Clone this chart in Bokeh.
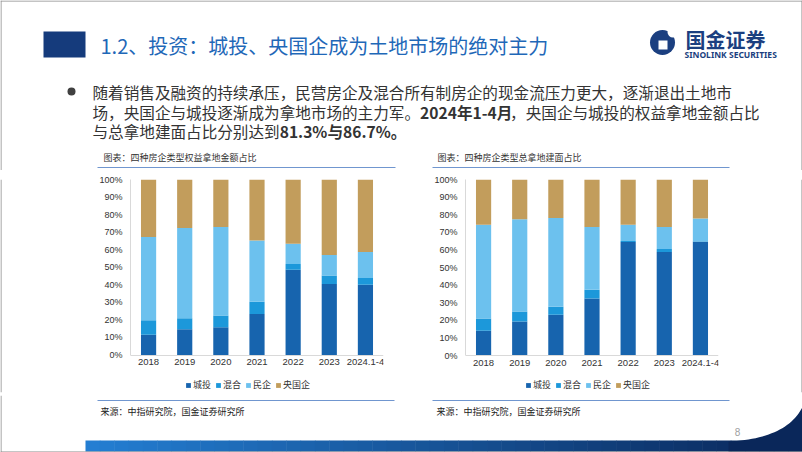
import numpy as np
from bokeh.plotting import figure
from bokeh.layouts import column, row
from bokeh.models import (Range1d, FactorRange, Legend, LegendItem, FixedTicker,
                          PrintfTickFormatter, ColumnDataSource)
from bokeh.core.properties import value
from bokeh.embed import file_html
from bokeh.resources import INLINE

# ---------------- data ----------------
years = ["2018", "2019", "2020", "2021", "2022", "2023", "2024.1-4"]
series = ["城投", "混合", "民企", "央国企"]

# 四种房企类型权益拿地金额占比 (%)
amt_chengtou = [11.6, 14.7, 15.8, 23.4, 48.6, 40.4, 40.0]
amt_hunhe = [8.2, 6.3, 6.7, 6.9, 3.2, 4.9, 3.9]
amt_minqi = [47.4, 51.4, 50.5, 35.0, 11.6, 11.7, 14.8]
amt_yangguo = [32.8, 27.6, 27.0, 34.7, 36.6, 43.0, 41.3]

# 四种房企类型总拿地建面占比 (%)
area_chengtou = [14.2, 19.4, 23.2, 32.5, 64.5, 58.9, 64.6]
area_hunhe = [6.9, 5.7, 4.5, 4.9, 0.6, 1.7, 0.3]
area_minqi = [53.2, 52.3, 50.4, 35.6, 9.2, 12.4, 13.0]
area_yangguo = [25.7, 22.6, 21.9, 27.0, 25.7, 27.0, 22.1]

yticks = [0, 10, 20, 30, 40, 50, 60, 70, 80, 90, 100]

chart1_title = "图表：四种房企类型权益拿地金额占比"
chart2_title = "图表：四种房企类型总拿地建面占比"
source_text = "来源：中指研究院，国金证券研究所"
slide_title = "1.2、投资：城投、央国企成为土地市场的绝对主力"

COLORS = ["#1764AE", "#1C98DA", "#6CC1EE", "#C29D5C"]
CJK = "Noto Sans CJK SC"
TXT = "#333333"
BORDER = "#8A8A8A"


def canvas(x0, x1, y0, y1):
    p = figure(width=x1 - x0, height=y1 - y0, x_range=Range1d(x0, x1),
               y_range=Range1d(y1, y0), output_backend="svg",
               toolbar_location=None, min_border=0,
               x_axis_location=None, y_axis_location=None)
    p.grid.visible = False
    p.outline_line_color = None
    p.background_fill_color = "white"
    p.border_fill_color = "white"
    return p


def txt(p, x, y, s, size, color=TXT, bold=False, font=CJK, align="left"):
    p.text(x=[x], y=[y], text=[s], text_font=value(font),
           text_font_size=value(size), text_color=color,
           text_baseline="middle", text_align=align,
           text_font_style="bold" if bold else "normal")


# ---------------- header (slide y 0..170) ----------------
H = canvas(0, 802, 0, 170)
H.segment(x0=[0.5, 0, 801.5], y0=[0, 0.5, 0], x1=[0.5, 802, 801.5], y1=[170, 0.5, 170],
          line_color=BORDER, line_width=1)
H.quad(left=[43], right=[85], top=[31], bottom=[57], fill_color="#153B7C", line_color=None)
txt(H, 100, 45, slide_title, "20px", color="#1F68B8")

# logo
H.circle(x=[662], y=[42], radius=12.5, fill_color="#1B3F80", line_color=None)
H.circle(x=[672.5], y=[31.5], radius=5.5, fill_color="white", line_color=None)
H.quad(left=[658], right=[667], top=[40], bottom=[49], fill_color="white", line_color=None)
txt(H, 685, 38.5, "国金证券", "20px", color="#1B3F80", bold=True)
txt(H, 684, 53.5, "SINOLINK SECURITIES", "8.5px", color="#1B3F80", bold=True, font="Noto Sans")

# bullet text
BFS = "15.6px"
ADV = 15.6
H.circle(x=[71], y=[91], radius=4, fill_color="#404040", line_color=None)
txt(H, 92, 91, "随着销售及融资的持续承压，民营房企及混合所有制房企的现金流压力更大，逐渐退出土地市", BFS)
x2 = 92 + 21 * ADV
txt(H, 92, 111, "场，央国企与城投逐渐成为拿地市场的主力军。", BFS)
txt(H, x2, 111, "2024年1-4月", BFS, bold=True)
txt(H, x2 + 90, 111, "，央国企与城投的权益拿地金额占比", BFS)
txt(H, 92, 130, "与总拿地建面占比分别达到", BFS)
txt(H, 92 + 12 * ADV, 130, "81.3%与86.7%。", BFS, bold=True)

# chart titles + underline
txt(H, 103, 157, chart1_title, "9px")
txt(H, 437, 157, chart2_title, "9px")
H.segment(x0=[97, 432], y0=[167, 167], x1=[395, 729], y1=[167, 167],
          line_color="#7096CF", line_width=1)


# ---------------- charts (slide y 170..395) ----------------
def make_chart(ct, hh, mq, yg, top_px, zero_px, leg_x):
    # figure spans slide y 170..395; frame from top_px to 392
    frame_bottom = 392.0
    scale = (zero_px - top_px) / 100.0
    ymin = -(frame_bottom - zero_px) / scale
    src = ColumnDataSource(dict(year=years, ct=ct, hh=hh, mq=mq, yg=yg))
    p = figure(x_range=FactorRange(*years), y_range=Range1d(ymin, 100),
               width=305, height=225, output_backend="svg", toolbar_location=None,
               min_border_left=35, min_border_right=17,
               min_border_top=int(round(top_px - 170)),
               min_border_bottom=int(round(395 - frame_bottom)))
    rs = p.vbar_stack(["ct", "hh", "mq", "yg"], x="year", width=0.42,
                      color=COLORS, line_color=None, source=src)
    p.grid.visible = False
    p.outline_line_color = None
    p.yaxis.ticker = FixedTicker(ticks=yticks)
    p.yaxis.formatter = PrintfTickFormatter(format="%d%%")
    p.yaxis.bounds = (0, 100)
    p.xaxis.fixed_location = 0
    for ax in (p.xaxis, p.yaxis):
        ax.axis_line_color = "#D9D9D9"
        ax.major_tick_line_color = None
        ax.minor_tick_line_color = None
        ax.major_tick_out = 0
        ax.major_tick_in = 0
        ax.minor_tick_out = 0
        ax.major_label_text_color = TXT
        ax.major_label_text_font = "Liberation Sans"
    p.yaxis.major_label_text_font_size = "9px"
    p.yaxis.major_label_standoff = 8
    p.xaxis.major_label_text_font_size = "9.5px"
    p.xaxis.major_label_standoff = 4
    leg = Legend(items=[LegendItem(label=s, renderers=[r]) for s, r in zip(series, rs)],
                 orientation="horizontal", location=(leg_x, 1),
                 glyph_width=6, glyph_height=6, label_height=10, label_width=20,
                 label_standoff=2, spacing=2, padding=0, margin=0,
                 label_text_font=CJK, label_text_font_size="9px",
                 label_text_color=TXT, border_line_color=None,
                 background_fill_alpha=0)
    p.add_layout(leg)
    return p


def side(x0, x1, lines):
    p = canvas(x0, x1, 170, 395)
    for lx in lines:
        p.segment(x0=[lx], y0=[170], x1=[lx], y1=[395], line_color=BORDER, line_width=1)
    return p


c1 = make_chart(amt_chengtou, amt_hunhe, amt_minqi, amt_yangguo, 179.0, 354.5, 55)
c2 = make_chart(area_chengtou, area_hunhe, area_minqi, area_yangguo, 178.0, 355.0, 60)
mid = row(side(0, 95, [0.5]), c1, side(400, 430, []), c2, side(735, 802, [801.5]))

# ---------------- footer (slide y 395..452) ----------------
F = canvas(0, 802, 395, 452)
F.segment(x0=[97, 432], y0=[400, 400], x1=[394, 729], y1=[400, 400],
          line_color="#7096CF", line_width=1)
txt(F, 100, 411, source_text, "9px", color="#222222")
txt(F, 436, 411, source_text, "9px", color="#222222")
txt(F, 737, 431, "8", "10px", color="#A0A0A0", font="Liberation Sans", align="center")

# banner gradient
n = 50
xs = np.linspace(85, 802, n + 1)
c0 = np.array([0x24, 0x7E, 0xD2])
c1c = np.array([0x0A, 0x27, 0x5A])
cols = []
for i in range(n):
    t = i / (n - 1)
    c = (c0 * (1 - t) + c1c * t).astype(int)
    cols.append("#%02x%02x%02x" % tuple(c))
F.quad(left=xs[:-1], right=xs[1:] + 0.5, top=440, bottom=451, fill_color=cols, line_color=None)

# swoosh
tt = np.linspace(0, 1, 30)
P0 = np.array([728.0, 441.0]); P1 = np.array([790.0, 438.0]); P2 = np.array([804.0, 402.0])
bx = (1 - tt) ** 2 * P0[0] + 2 * (1 - tt) * tt * P1[0] + tt ** 2 * P2[0]
by = (1 - tt) ** 2 * P0[1] + 2 * (1 - tt) * tt * P1[1] + tt ** 2 * P2[1]
F.patch(x=list(bx) + [804, 728], y=list(by) + [451, 451], fill_color="#0A275A", line_color=None)
F.segment(x0=[0.5, 0], y0=[395, 451.5], x1=[0.5, 802], y1=[452, 451.5],
          line_color=BORDER, line_width=1)

page = column(H, mid, F)
open("out.html", "w").write(file_html(page, INLINE))
